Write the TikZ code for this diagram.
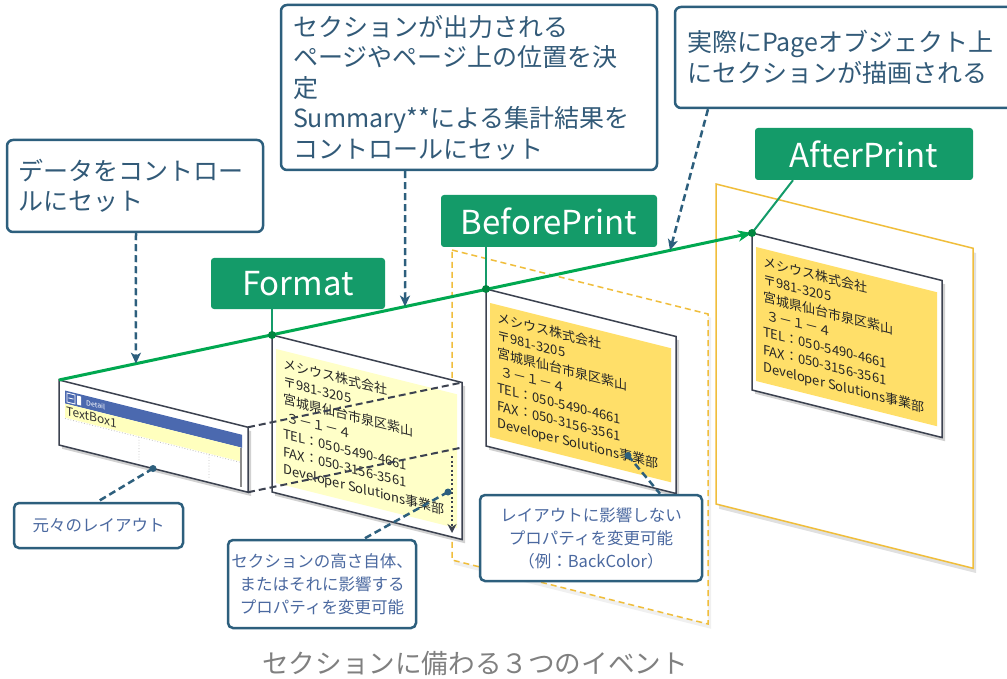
\documentclass[tikz,border=0pt]{standalone}
\usepackage{fontspec}
\setmainfont{Noto Sans CJK JP}
\usetikzlibrary{arrows.meta,calc}
\definecolor{evgreen}{RGB}{20,155,105}
\definecolor{lngreen}{RGB}{0,168,80}
\definecolor{cborder}{RGB}{45,95,125}
\definecolor{ctext}{RGB}{50,90,120}
\definecolor{stext}{RGB}{75,105,160}
\definecolor{cardline}{RGB}{60,66,80}
\definecolor{paleyel}{RGB}{255,255,200}
\definecolor{goldyel}{RGB}{255,223,105}
\definecolor{framegold}{RGB}{240,190,60}
\definecolor{capgray}{RGB}{128,128,128}
\definecolor{hdrblue}{RGB}{75,105,175}
\definecolor{tbyel}{RGB}{255,255,190}
\tikzset{
  evbox/.style={fill=evgreen, text=white, rounded corners=3pt, inner sep=0pt,
    font=\fontsize{33}{38}\selectfont},
  bigcallout/.style={draw=cborder, line width=2.5pt, rounded corners=6pt, fill=white,
    text=ctext, font=\fontsize{25}{30.5}\selectfont, align=left, inner xsep=12pt, inner ysep=0pt},
  smallcallout/.style={draw=cborder, line width=2.5pt, rounded corners=5pt, fill=white,
    text=stext, font=\fontsize{16.5}{23}\selectfont, align=center, inner sep=0pt},
  dashconn/.style={draw=cborder, line width=2.5pt, dash pattern=on 7pt off 4pt},
  dasharrow/.style={dashconn, -{Stealth[length=11pt,width=10pt,inset=3pt]}},
  cardbox/.style={draw=cardline, line width=1.5pt, fill=white, line join=miter},
  cardtxt/.style={anchor=north west, inner sep=0pt, transform shape, align=left,
    font=\fontsize{13}{17.5}\selectfont, text=black!85},
  greenline/.style={draw=lngreen, line width=3pt},
  greenconn/.style={draw=evgreen, line width=2pt},
  projline/.style={draw=cardline, line width=2pt, dash pattern=on 7pt off 4pt},
}
\newcommand{\addrlines}{メシウス株式会社\\〒981-3205\\宮城県仙台市泉区紫山\\\hspace*{3pt}３－１－４\\TEL：050-5490-4661\\FAX：050-3156-3561\\Developer Solutions事業部}
\newcommand{\addrcard}[4]{%
\begin{scope}[shift={(#2,#3)}, yslant=-0.25]
  \fill[black, opacity=0.18] (3,3) -- (193,3) -- (193,160) -- (3,160) -- cycle;
  \draw[cardbox] (0,0) coordinate (#1-tl) -- (190,0) coordinate (#1-tr) -- (190,157) coordinate (#1-br) -- (0,157) coordinate (#1-bl) -- cycle;
  \fill[#4] (4,13) rectangle (185,147);
  \node[cardtxt] (#1-txt) at (11,20) {\addrlines};
  \coordinate (#1-h) at (190,65);
  \coordinate (#1-d1) at (176,113);
  \coordinate (#1-d2) at (142,131);
  \coordinate (#1-v1) at (180,76);
  \coordinate (#1-v2) at (180,153);
\end{scope}}
\begin{document}
\begin{tikzpicture}[x=1pt,y=-1pt]
\useasboundingbox (0,0) rectangle (1007,679);
\clip (0,0) rectangle (1007,679);
\fill[white] (0,0) rectangle (1007,679);

% frames
\begin{scope}[shift={(452,250)}, yslant=-0.25]
  \fill[black, opacity=0.06] (2,3) -- (259,3) -- (259,314) -- (2,314) -- cycle;
  \draw[draw=framegold, line width=1.5pt, dash pattern=on 6pt off 4pt, fill=white]
    (0,0) coordinate (bf-tl) -- (256,0) -- (256,310) -- (0,310) -- cycle;
\end{scope}
\begin{scope}[shift={(716,184)}, yslant=-0.25]
  \fill[black, opacity=0.12] (3,4) -- (260,4) -- (260,324) -- (3,324) -- cycle;
  \draw[draw=framegold, line width=1.5pt, fill=white]
    (0,0) coordinate (af-tl) -- (257,0) -- (257,320) -- (0,320) -- cycle;
\end{scope}

% original layout card
\begin{scope}[shift={(59,380)}, yslant=-0.25]
  \fill[black, opacity=0.18] (3,3) -- (192,3) -- (192,68) -- (3,68) -- cycle;
  \draw[cardbox] (0,0) coordinate (lc-tl) -- (189,0) coordinate (lc-tr) -- (189,65) coordinate (lc-br) -- (0,65) coordinate (lc-bl) -- cycle;
  \fill[hdrblue] (6,9) rectangle (183,22);
  \draw[white, line width=0.8pt] (8,11) rectangle (16,20) (9.5,15.5) -- (14.5,15.5);
  \fill[white] (18,11) rectangle (22,20);
  \node[anchor=west, inner sep=0pt, transform shape, text=white, font=\fontsize{7}{8}\selectfont] (lc-det) at (27,15.5) {Detail};
  \fill[tbyel] (6,22) rectangle (181,36);
  \node[anchor=west, inner sep=0pt, transform shape, text=black!80, font=\fontsize{12}{13}\selectfont] (lc-tb) at (7,29) {TextBox1};
  \draw[black!25, dotted, line width=0.8pt] (6,37) -- (181,37) (80,37) -- (80,60) (150,37) -- (150,60);
  \draw[black!45, line width=2pt] (182,22) -- (182,61);
  \coordinate (lc-d) at (94,65);
\end{scope}

% address cards
\addrcard{fm}{272}{335}{paleyel}
\addrcard{bp}{486}{289}{goldyel}
\addrcard{ap}{752}{233}{goldyel}

% projection lines and growth arrow
\draw[projline] (lc-tr) -- (fm-tr);
\draw[projline] (lc-br) -- (fm-h);
\draw[draw=cardline, line width=2.2pt, dash pattern=on 2pt off 2.5pt, -{Stealth[length=9pt,width=9pt,inset=3pt]}] (fm-v1) -- (fm-v2);

% event labels
\node[evbox, minimum width=174pt, minimum height=51pt] (fmt) at (298,283.5) {Format};
\node[evbox, minimum width=216pt, minimum height=52pt] (bpr) at (549,221) {BeforePrint};
\node[evbox, minimum width=218pt, minimum height=52pt] (apr) at (864,154) {AfterPrint};

% green timeline
\draw[greenline, -{Stealth[length=14pt,width=11pt,inset=4pt]}] (lc-tl) -- (ap-tl);
\draw[greenconn] (fm-tl |- fmt.south) -- (fm-tl);
\draw[greenconn] (bp-tl |- bpr.south) -- (bp-tl);
\draw[greenconn] ([xshift=-71pt]apr.south) -- (ap-tl);
\fill[lngreen!80!black] (fm-tl) circle (4pt) (bp-tl) circle (4pt) (ap-tl) circle (4pt);

% top callouts
\node[bigcallout, minimum width=256pt, minimum height=92pt, text width=232pt] (ca) at (135,186) {データをコントロー\\ルにセット};
\node[bigcallout, minimum width=376pt, minimum height=165pt, text width=352pt] (cb) at (469,87.5) {セクションが出力される\\ページやページ上の位置を決\\定\\Summary**による集計結果を\\コントロールにセット};
\node[bigcallout, minimum width=380pt, minimum height=101pt, text width=356pt] (cc) at (865,57.5) {実際にPageオブジェクト上\\にセクションが描画される};

\draw[dasharrow] (ca.south -| 136,0) -- ($(lc-tl)!0.111!(ap-tl)$);
\draw[dasharrow] (cb.south -| 405,0) -- ($(lc-tl)!0.4993!(ap-tl)$);
\draw[dasharrow] ([xshift=-157pt]cc.south) -- ($(lc-tl)!0.8817!(ap-tl)$);

% bottom callouts
\node[smallcallout, minimum width=169pt, minimum height=45pt] (co) at (98.5,525.5) {元々のレイアウト};
\node[smallcallout, minimum width=188pt, minimum height=88pt] (ch) at (322,584) {セクションの高さ自体、\\またはそれに影響する\\プロパティを変更可能};
\node[smallcallout, minimum width=222pt, minimum height=86pt] (cp) at (591,538) {レイアウトに影響しない\\プロパティを変更可能\\（例：BackColor）};

\draw[dashconn] (lc-d) -- ([xshift=-1pt]co.north);
\draw[dashconn] (fm-d1) -- ([xshift=42pt]ch.north);
\draw[dashconn] (bp-d2) -- ([xshift=69pt]cp.north);
\fill[cborder] (lc-d) circle (3.5pt) (fm-d1) circle (3.5pt) (bp-d2) circle (3.5pt);

% caption
\node[text=capgray, font=\fontsize{26.6}{30}\selectfont, inner sep=0pt] (cap) at (475,663) {セクションに備わる３つのイベント};
\end{tikzpicture}
\end{document}
